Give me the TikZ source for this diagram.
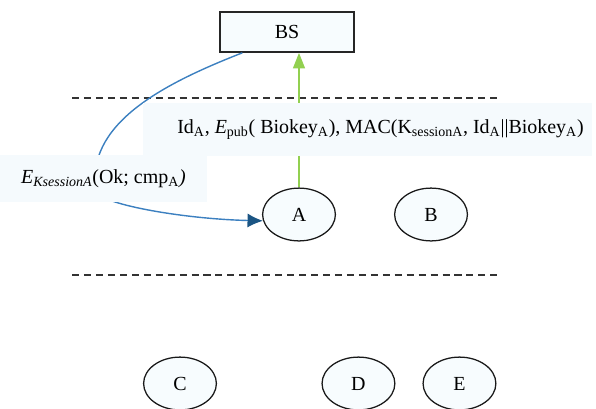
\documentclass[tikz,border=0pt]{standalone}
\usepackage{fontspec}
\setmainfont{Liberation Serif}
\usetikzlibrary{positioning, shapes.geometric, arrows.meta}
\definecolor{nodefill}{HTML}{F7FCFE}
\definecolor{msgfill}{HTML}{F5FAFD}
\definecolor{linkblue}{HTML}{3C80C0}
\definecolor{tipblue}{HTML}{1B5584}
\definecolor{upgreen}{HTML}{92D050}
\tikzset{
  station/.style={draw=black!85, line width=1.2pt, fill=nodefill, minimum width=3.35cm, minimum height=1cm},
  sensor/.style={ellipse, draw=black!90, line width=0.9pt, fill=nodefill, minimum width=1.82cm, minimum height=1.32cm, inner sep=0pt},
  msg/.style={fill=msgfill, inner sep=0pt},
  boundary/.style={dash pattern=on 5pt off 3.5pt, line width=0.9pt, black!80}
}

\begin{document}
\begin{tikzpicture}
	[x=0.025cm, y=-0.025cm, on grid, font=\fontsize{14.2}{17}\selectfont]
   \useasboundingbox (0,0) rectangle (596,408);
   % base station and cluster members
   \node[station] (BS) at (287,32) {BS};
   \node[sensor] (A) at (299,214.5) {A};
   \node[sensor] (B) [right=3.3cm of A] {B};
   \node[sensor] (C) at (180,383.5) {C};
   \node[sensor] (D) [right=4.46cm of C] {D};
   \node[sensor] (E) [right=2.525cm of D] {E};
   % cluster boundaries
   \coordinate (up_l) at (72,98);
   \coordinate (up_r) at (500,98);
   \coordinate (lo_l) at (72,275);
   \coordinate (lo_r) at (500,275);
   \draw[boundary] (up_l) -- (up_r);
   \draw[boundary] (lo_l) -- (lo_r);
   % messages
   \draw[upgreen, line width=1pt, -{Triangle[length=11pt, width=8.5pt]}]
     (A.north) -- (A.north |- BS.south);
   \draw[linkblue, line width=1pt, -{Latex[length=11pt, width=10pt, color=tipblue]}]
     (BS.-155) .. controls (160,85) and (85,125) .. (96,192)
               .. controls (104,205) and (185,219) .. (A.190);
   \node[msg, minimum width=11.225cm, minimum height=1.325cm] (up_msg) at (367.5,129.5)
     {\hspace*{0.65cm}Id\textsubscript{A}, \textit{E}\textsubscript{pub}( Biokey\textsubscript{A}), MAC(K\textsubscript{sessionA}, Id\textsubscript{A}||Biokey\textsubscript{A})};
   \node[msg, minimum width=5.175cm, minimum height=1.175cm] (down_msg) at (103.5,178.5)
     {\textit{E}\textsubscript{\itshape KsessionA}(Ok; cmp\textsubscript{A}\textit{)}};
\end{tikzpicture}
\end{document}
